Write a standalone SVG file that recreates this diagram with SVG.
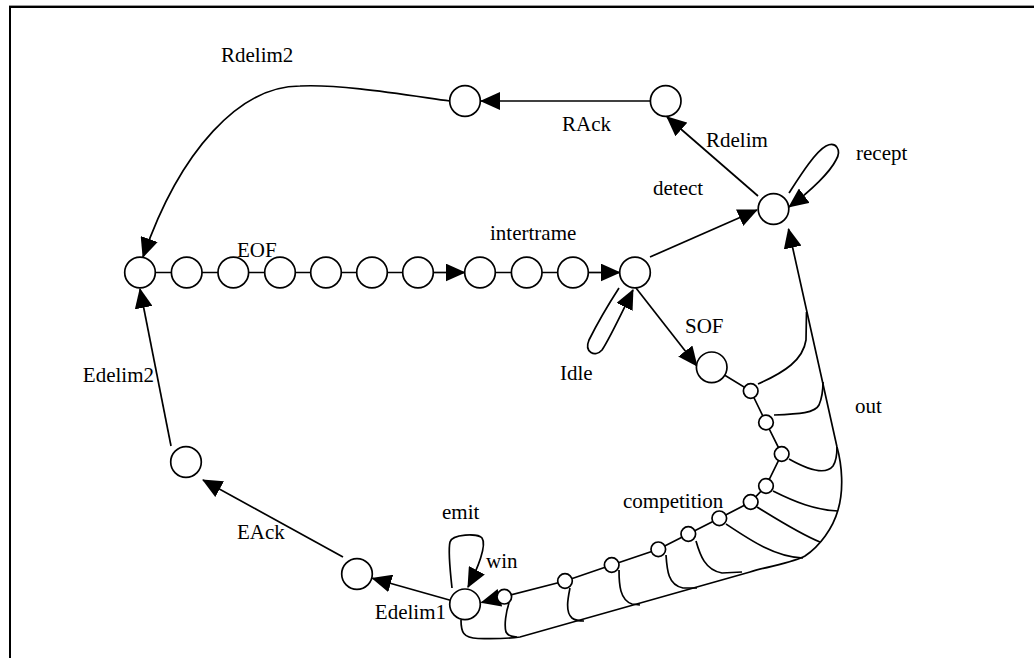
<svg xmlns="http://www.w3.org/2000/svg" width="1034" height="658" viewBox="0 0 1034 658">
<style>
.n{fill:#fff;stroke:#000;stroke-width:1.7}
.e{fill:none;stroke:#000;stroke-width:1.7}
.a{marker-end:url(#ah)}
text{font-family:"Liberation Serif","Times New Roman",serif;font-size:21px;fill:#000}
</style>
<defs>
<marker id="ah" viewBox="0 0 20 18" refX="19" refY="9" markerWidth="20" markerHeight="18" markerUnits="userSpaceOnUse" orient="auto"><path d="M0,0 L20,9 L0,18 z" fill="#000"/></marker>
</defs>
<rect width="1034" height="658" fill="#fff"/>
<g id="frame">
<line x1="9" y1="5.5" x2="1034" y2="5.5" stroke="#999" stroke-width="1"/>
<path d="M10,658 L10,7 L1034,7" fill="none" stroke="#000" stroke-width="2"/>
</g>
<g id="connectors">
<path class="e" d="M140,272.5 L418,272.5"/>
<path class="e a" d="M433.3,272.5 L464.7,272.5"/>
<path class="e" d="M480,272.5 L573,272.5"/>
<path class="e a" d="M588.3,272.5 L619.7,272.5"/>
<path class="e a" d="M450,101 C400,94 340,84 300,86 C240,86 180,150 143,257"/>
<path class="e a" d="M650,101 L481,101"/>
<path class="e a" d="M758,196 L667,117"/>
<path class="e a" d="M650,257 L757,210"/>
<path class="e a" d="M789,193 C800,176 815,152 826,146 C836,141 842,150 836,160 C830,172 812,190 789,207"/>
<path class="e a" d="M619,288 C608,305 595,328 589,340 C584,352 595,358 602,350 C610,338 622,312 633,290"/>
<path class="e a" d="M636,288 L697,366"/>
<path class="e" d="M711.7,367.3 L750.7,391 L766,422.5 L781.7,454 L766,486 L750.7,502 L719.3,518.3 L688.3,534 L658.3,549.3 L611.7,565 L565,581 L504.3,596.7"/>
<path class="e a" d="M497,598.5 L481.5,602.5"/>
<path class="e a" d="M452,588 C450,570 448,550 450,542 C452,534 478,533 482,538 C487,545 478,568 468,587"/>
<path class="e a" d="M450.3,600.2 L372.4,578.3"/>
<path class="e a" d="M343,557 L203,480"/>
<path class="e a" d="M171,446 L140,289"/>
<path class="e a" d="M461,620 C461,632 463,638 478,638.5 C495,639 505,639 520,637 L750,572 C770,566 795,562 805,556 C820,546 833,528 838,510 C844,490 842,465 837,447 L788.5,229"/>
<path class="e" d="M758,384 C785,372 803,360 806,340 L806.5,312"/>
<path class="e" d="M774,415 C800,414 815,413 819,405 C822,398 823,390 823,382"/>
<path class="e" d="M789,459 C805,468 825,476 833,466 C837,460 837,452 837,447"/>
<path class="e" d="M773,491 C795,502 815,510 838,511"/>
<path class="e" d="M757,507 C775,518 800,534 820,542"/>
<path class="e" d="M726,524 C750,540 775,557 803,558"/>
<path class="e" d="M696,541 C700,555 705,570 722,573 L742,572"/>
<path class="e" d="M666,555 C667,570 668,585 683,588 L697,588"/>
<path class="e" d="M619,570 C619,585 620,600 632,604 L640,605"/>
<path class="e" d="M570,588 C568,598 565,612 572,618 C576,621 580,621 584,621"/>
<path class="e" d="M509,603 C506,612 504,625 506,632 C508,636 512,637 517,637"/>
</g>
<g id="n0"><circle class="n" cx="140" cy="272.5" r="15.3"/></g>
<g id="n1"><circle class="n" cx="186.7" cy="272.5" r="15.3"/></g>
<g id="n2"><circle class="n" cx="233.3" cy="272.5" r="15.3"/></g>
<g id="n3"><circle class="n" cx="280" cy="272.5" r="15.3"/></g>
<g id="n4"><circle class="n" cx="326" cy="272.5" r="15.3"/></g>
<g id="n5"><circle class="n" cx="372" cy="272.5" r="15.3"/></g>
<g id="n6"><circle class="n" cx="418" cy="272.5" r="15.3"/></g>
<g id="n7"><circle class="n" cx="480" cy="272.5" r="15.3"/></g>
<g id="n8"><circle class="n" cx="526.7" cy="272.5" r="15.3"/></g>
<g id="n9"><circle class="n" cx="573" cy="272.5" r="15.3"/></g>
<g id="idle"><circle class="n" cx="635" cy="272.5" r="15.3"/></g>
<g id="t1"><circle class="n" cx="465" cy="101" r="15.3"/></g>
<g id="t2"><circle class="n" cx="665.7" cy="101" r="15.3"/></g>
<g id="recept"><circle class="n" cx="773.5" cy="209" r="15.3"/></g>
<g id="sof"><circle class="n" cx="711.7" cy="367.3" r="15.3"/></g>
<g id="c1"><circle class="n" cx="750.7" cy="391" r="7.3"/></g>
<g id="c2"><circle class="n" cx="766" cy="422.5" r="7.3"/></g>
<g id="c3"><circle class="n" cx="781.7" cy="454" r="7.3"/></g>
<g id="c4"><circle class="n" cx="766" cy="486" r="7.3"/></g>
<g id="c5"><circle class="n" cx="750.7" cy="502" r="7.3"/></g>
<g id="c6"><circle class="n" cx="719.3" cy="518.3" r="7.3"/></g>
<g id="c7"><circle class="n" cx="688.3" cy="534" r="7.3"/></g>
<g id="c8"><circle class="n" cx="658.3" cy="549.3" r="7.3"/></g>
<g id="c9"><circle class="n" cx="611.7" cy="565" r="7.3"/></g>
<g id="c10"><circle class="n" cx="565" cy="581" r="7.3"/></g>
<g id="c11"><circle class="n" cx="504.3" cy="596.7" r="7.3"/></g>
<g id="edelim1"><circle class="n" cx="465" cy="604.3" r="15.3"/></g>
<g id="eack"><circle class="n" cx="357" cy="574" r="15.3"/></g>
<g id="edelim2"><circle class="n" cx="186" cy="462" r="15.3"/></g>
<g id="labels">
<text x="221" y="62">Rdelim2</text>
<text x="237" y="257">EOF</text>
<text x="562" y="131">RAck</text>
<text x="706" y="147">Rdelim</text>
<text x="653" y="195">detect</text>
<text x="490" y="240">intertrame</text>
<text x="856" y="160">recept</text>
<text x="685" y="333">SOF</text>
<text x="560" y="380">Idle</text>
<text x="855" y="413">out</text>
<text x="623" y="508">competition</text>
<text x="442" y="519">emit</text>
<text x="486" y="568">win</text>
<text x="446" y="619" text-anchor="end">Edelim1</text>
<text x="237" y="539">EAck</text>
<text x="154" y="382" text-anchor="end">Edelim2</text>
</g>
</svg>
